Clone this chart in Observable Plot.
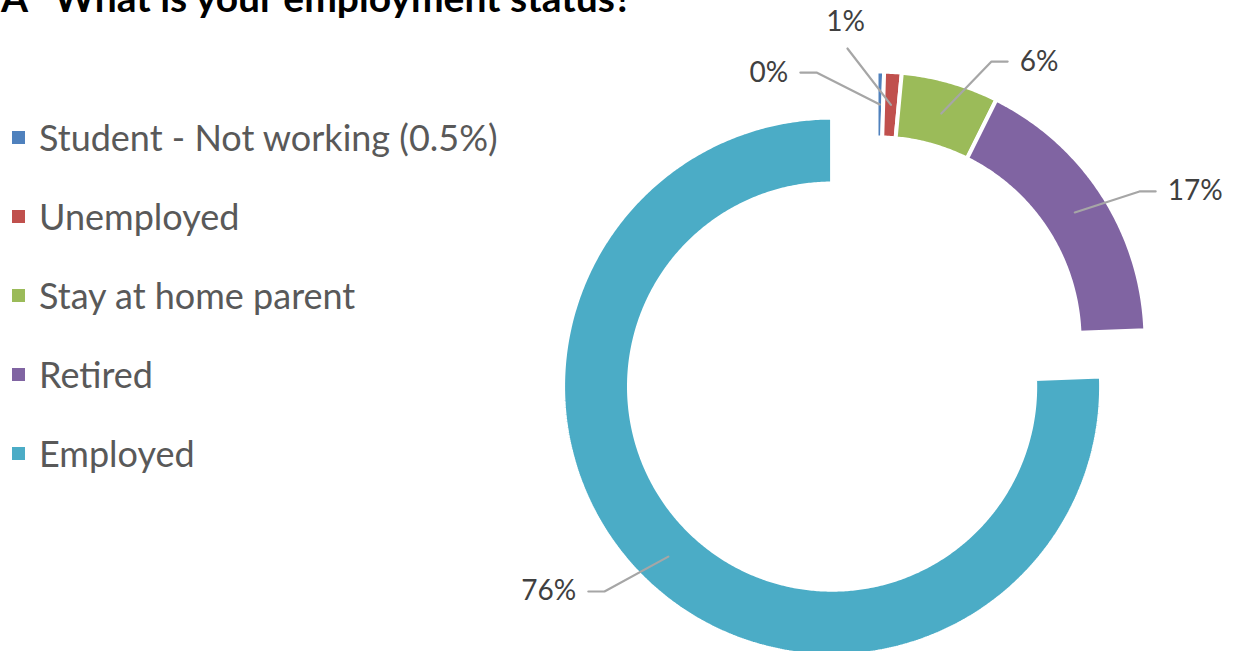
<!DOCTYPE html>
<html><head><meta charset="utf-8">
<script src="https://cdn.jsdelivr.net/npm/d3@7"></script>
<script src="https://cdn.jsdelivr.net/npm/@observablehq/plot@0.6"></script>
<style>
html,body{margin:0;padding:0;background:#fff;overflow:hidden;}
#wrap{position:relative;width:1233px;height:651px;overflow:hidden;font-family:Lato,"Open Sans",sans-serif;}
#chart{position:absolute;left:0;top:0;}
.ttl{position:absolute;top:-22px;font-weight:bold;font-size:39px;line-height:1;color:#000;white-space:pre;}
.item{position:absolute;left:12px;display:flex;align-items:center;transform:translateY(-50%);}
.sw{width:13px;height:13px;flex:none;}
.lab{margin-left:14px;font-size:36px;line-height:1;color:#595959;white-space:nowrap;}
</style></head>
<body><div id="wrap"><div id="chart"></div><div id="tprefix" class="ttl" style="left:1px"></div><div id="title" class="ttl" style="left:54px"></div><div id="legend"></div></div>
<script>
// ---- data ----
const categories = ["Student - Not working", "Unemployed", "Stay at home parent", "Retired", "Employed"];
const legendLabels = ["Student - Not working (0.5%)", "Unemployed", "Stay at home parent", "Retired", "Employed"];
const values = [0.45, 1.05, 5.85, 17.05, 75.6];
const percentLabels = ["0%", "1%", "6%", "17%", "76%"];
const colors = ["#4F81BD", "#C0504D", "#9BBB59", "#8064A2", "#4BACC6"];
const titlePrefix = "A";
const titleText = "What is your employment status?";

// ---- layout (in units of the donut's outer radius) ----
const W = 1233, H = 651;
const R_PX = 269, CX = 876, CY = 340;
const HOLE = 0.755;
const explode = [0, 0, 0, 0, 0.238];
const labelLayout = [
  {elbow: [-0.223, 0.996], side: -1},
  {elbow: [-0.108, 1.0855], side: 0},
  {elbow: [0.4275, 1.037], side: 1},
  {elbow: [0.9777, 0.554], side: 1},
  {elbow: [-1.0112, -0.933], side: -1}
];
const TAIL = 0.06, GAP = 0.045;

// ---- geometry ----
const total = d3.sum(values);
let cum = 0;
const slices = values.map((v, i) => {
  const a0 = cum / total * 2 * Math.PI; cum += v;
  const a1 = cum / total * 2 * Math.PI;
  const mid = (a0 + a1) / 2;
  return {i, a0, a1, mid, ox: explode[i] * Math.sin(mid), oy: explode[i] * Math.cos(mid)};
});
const polyRows = [];
slices.forEach(s => {
  const n = Math.max(2, Math.ceil((s.a1 - s.a0) / (Math.PI / 360)));
  for (let k = 0; k <= n; k++) {
    const a = s.a0 + (s.a1 - s.a0) * k / n;
    polyRows.push({cat: categories[s.i], x: s.ox + Math.sin(a), y: s.oy + Math.cos(a)});
  }
  for (let k = n; k >= 0; k--) {
    const a = s.a0 + (s.a1 - s.a0) * k / n;
    polyRows.push({cat: categories[s.i], x: s.ox + HOLE * Math.sin(a), y: s.oy + HOLE * Math.cos(a)});
  }
});
const rm = (1 + HOLE) / 2;
const leaderRows = [];
const textRows = [];
slices.forEach(s => {
  const L = labelLayout[s.i];
  const c = [s.ox + rm * Math.sin(s.mid), s.oy + rm * Math.cos(s.mid)];
  const e = L.elbow;
  const t = [e[0] + L.side * TAIL, e[1]];
  leaderRows.push({z: s.i, x: c[0], y: c[1]}, {z: s.i, x: e[0], y: e[1]}, {z: s.i, x: t[0], y: t[1]});
  if (L.side === 0) textRows.push({x: e[0] - 0.007, y: e[1] + 0.097, text: percentLabels[s.i], anchor: "middle"});
  else textRows.push({x: t[0] + L.side * GAP, y: t[1], text: percentLabels[s.i], anchor: L.side > 0 ? "start" : "end"});
});

const chart = Plot.plot({
  width: W, height: H,
  margin: 0,
  x: {domain: [-CX / R_PX, (W - CX) / R_PX], range: [0, W], axis: null},
  y: {domain: [-(H - CY) / R_PX, CY / R_PX], range: [H, 0], axis: null},
  color: {domain: categories, range: colors},
  style: {fontFamily: "Lato, 'Open Sans', sans-serif", background: "white"},
  marks: [
    Plot.line(polyRows, {x: "x", y: "y", z: "cat", fill: "cat", stroke: "white", strokeWidth: 4, curve: "linear-closed", strokeLinejoin: "miter"}),
    Plot.line(leaderRows, {x: "x", y: "y", z: "z", stroke: "#a6a6a6", strokeWidth: 2.2, curve: "linear"}),
    ...["start", "end", "middle"].map(a => Plot.text(textRows.filter(d => d.anchor === a), {x: "x", y: "y", text: "text", textAnchor: a, fontSize: 28, fill: "#404040"}))
  ]
});
document.getElementById("chart").appendChild(chart);

document.getElementById("tprefix").textContent = titlePrefix;
document.getElementById("title").textContent = titleText;
const legend = document.getElementById("legend");
legendLabels.forEach((l, i) => {
  const it = document.createElement("div");
  it.className = "item";
  it.style.top = (137 + 79 * i) + "px";
  it.innerHTML = `<div class="sw" style="background:${colors[i]}"></div><div class="lab"></div>`;
  it.querySelector(".lab").textContent = l;
  legend.appendChild(it);
});
</script>
</body></html>
